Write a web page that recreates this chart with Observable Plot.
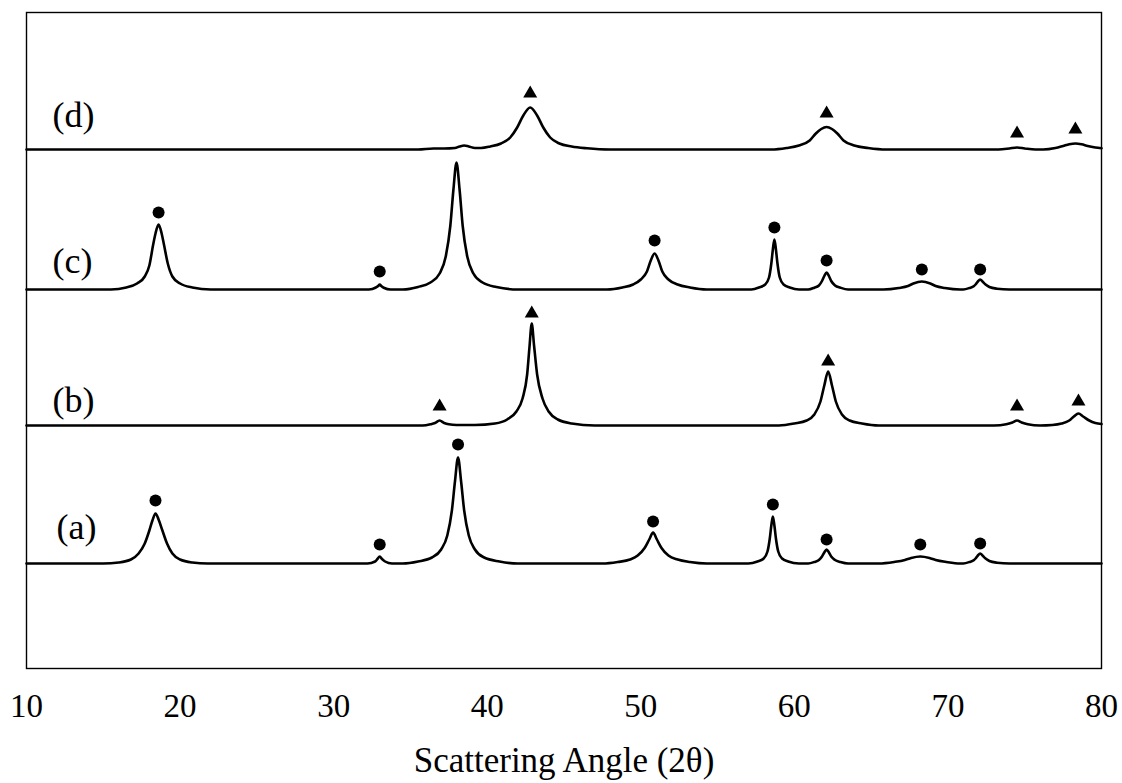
<!DOCTYPE html>
<html><head><meta charset="utf-8">
<script src="https://cdn.jsdelivr.net/npm/d3@7"></script>
<script src="https://cdn.jsdelivr.net/npm/@observablehq/plot@0.6"></script>
<style>body{margin:0;background:#fff}</style>
</head><body><div id="chart"></div>
<script>
// Sample names and vertical stacking offsets (arbitrary intensity units)
const seriesNames = ["(a)", "(b)", "(c)", "(d)"];
const offsets = [105, 243, 379, 519];

// Diffraction patterns: [2θ, intensity above the trace baseline]
const patternA = [[10,0],
  [15.0,0],[16.0,1],[16.8,4],[17.3,10],[17.7,20],[18.0,33],[18.2,43],[18.4,50],[18.6,44],[18.85,33],[19.15,20],[19.5,10],[20.0,4],[20.8,1],[21.8,0],
  [32.2,0],[32.7,2],[32.85,4.5],[33.0,7],[33.15,4.5],[33.35,2],[33.8,0],
  [34.5,0],[35.5,2],[36.4,6],[37.0,14],[37.4,28],[37.7,53],[37.9,82],[38.1,106],[38.3,82],[38.5,53],[38.8,28],[39.2,14],[39.8,6],[40.8,2],[42.0,0],
  [47.5,0],[48.5,1.5],[49.3,4],[49.8,8],[50.25,15.5],[50.55,24],[50.8,31],[51.05,24],[51.35,15.5],[51.8,8],[52.4,4],[53.2,1.5],[54.3,0],
  [57.0,0],[57.6,2],[58.0,5],[58.25,12],[58.4,25],[58.5,38],[58.6,47],[58.7,38],[58.8,25],[58.95,12],[59.2,5],[59.6,2],[60.3,0],
  [60.9,0],[61.3,1.5],[61.6,3.5],[61.8,7],[61.95,11],[62.1,14],[62.25,11],[62.4,7],[62.65,3.5],[63.0,1.5],[63.5,0],
  [65.5,0],[66.5,1.5],[67.2,3.5],[67.6,5.5],[68.2,7],[68.8,5.5],[69.2,3.5],[69.9,1.5],[70.8,0],
  [71.0,0],[71.4,1.5],[71.7,3.5],[71.8,5],[71.95,8],[72.1,10],[72.25,8],[72.45,5],[72.7,2.5],[73.2,0.8],[74.0,0],
  [80,0]];
const patternB = [[10,0],
  [35.8,0],[36.3,1.2],[36.6,2.5],[36.9,5],[37.2,2.5],[37.5,1.2],[38.0,0.5],
  [39.2,0.5],[40.5,2],[41.3,6],[41.9,14],[42.3,27],[42.6,51],[42.75,78],[42.9,102],[43.05,80],[43.25,51],[43.6,27],[44.0,14],[44.6,6],[45.5,2],[47.0,0],
  [59.0,0],[60.0,2],[60.8,5],[61.3,11],[61.7,24],[61.95,40],[62.2,54],[62.45,40],[62.7,24],[63.1,11],[63.6,5],[64.4,2],[65.5,0],
  [73.0,0],[73.8,1.2],[74.2,3],[74.5,5],[74.8,3],[75.2,1.2],[76.0,0],
  [76.8,0.5],[77.4,2],[77.9,5],[78.2,9],[78.5,12],[78.8,9],[79.2,5],[79.6,2.5],[80,1.5]];
const patternC = [[10,0],
  [15.5,0],[16.5,2],[17.2,6],[17.7,13],[18.0,24],[18.25,45],[18.4,56],[18.6,65],[18.8,56],[18.95,45],[19.2,26],[19.5,13],[20.0,6],[20.8,2],[22.0,0],
  [32.3,0],[32.75,2],[32.9,3.5],[33.0,5],[33.1,3.5],[33.3,1.5],[33.7,0],
  [34.5,0],[35.5,2.5],[36.3,7],[36.9,16],[37.3,33],[37.6,64],[37.8,100],[38.0,127],[38.2,100],[38.4,64],[38.7,33],[39.1,16],[39.7,7],[40.6,2.5],[42.0,0],
  [47.8,0],[48.8,2],[49.5,5],[50.0,10],[50.4,18],[50.65,29],[50.9,36],[51.15,29],[51.4,18],[51.8,10],[52.4,5],[53.2,2],[54.3,0],
  [57.2,0],[57.7,2],[58.1,5],[58.35,12],[58.5,26],[58.6,40],[58.7,50],[58.8,40],[58.9,26],[59.05,12],[59.3,5],[59.7,2],[60.3,0],
  [60.9,0],[61.3,1.8],[61.6,4],[61.8,8.5],[61.95,13.5],[62.1,17],[62.25,13.5],[62.4,8.5],[62.65,4],[63.0,1.8],[63.5,0],
  [65.8,0],[66.8,1.5],[67.4,3.5],[67.75,6],[68.3,8],[68.85,6],[69.2,3.5],[69.8,1.5],[70.8,0],
  [71.0,0],[71.4,1.5],[71.7,3.5],[71.8,5],[71.95,8],[72.1,10],[72.25,8],[72.45,5],[72.7,2.5],[73.2,0.8],[74.0,0],
  [80,0]];
const patternD = [[10,0],
  [35.5,0],[36.5,1],[37.2,1],[37.9,1.5],[38.2,3],[38.5,4],[38.8,3],[39.2,1.5],
  [39.6,1.5],[40.2,3],[40.9,6],[41.5,12],[41.95,22],[42.35,34],[42.8,42],[43.25,34],[43.65,22],[44.1,12],[44.7,6],[45.5,3],[46.5,1.2],[48.0,0],
  [58.5,0],[59.5,1.5],[60.3,4],[61.0,9],[61.4,16],[61.75,20.5],[62.1,22.5],[62.45,20.5],[62.8,16],[63.2,9],[63.9,4],[64.8,1.5],[66.0,0],
  [73.3,0],[74.0,1],[74.5,2],[75.0,1],[75.7,0],
  [76.2,0],[77.0,1.5],[77.5,3.5],[77.9,5.2],[78.3,6],[78.7,5.2],[79.1,3.5],[79.6,2],[80,1.2]];

// Phase markers: [2θ, height above the trace baseline]; ● for (a),(c), ▲ for (b),(d)
const markersA = [[18.4,63],[33.0,19],[38.1,119],[50.8,42],[58.6,59],[62.1,24],[68.2,19],[72.1,20]];
const markersB = [[36.9,19],[42.9,112],[62.2,64],[74.5,19],[78.5,24]];
const markersC = [[18.6,77],[33.0,18],[50.9,49],[58.7,62],[62.1,29],[68.3,20],[72.1,20]];
const markersD = [[42.8,56],[62.1,36],[74.5,16],[78.3,20]];

// Sample label anchors
const labelX = [11.95, 11.7, 11.7, 11.7];
const labelY = [130, 257, 396, 542];

const xTicks = [10, 20, 30, 40, 50, 60, 70, 80];
const xTitle = "Scattering Angle (2θ)";

const patterns = [patternA, patternB, patternC, patternD];
const lineData = [];
patterns.forEach((p, i) => p.forEach(([x, v]) => lineData.push({series: seriesNames[i], x, y: v + offsets[i]})));
const circles = [];
[[markersA, 0], [markersC, 2]].forEach(([m, i]) => m.forEach(([x, v]) => circles.push({x, y: v + offsets[i]})));
const triangles = [];
[[markersB, 1], [markersD, 3]].forEach(([m, i]) => m.forEach(([x, v]) => triangles.push({x, y: v + offsets[i]})));
const labels = seriesNames.map((t, i) => ({text: t, x: labelX[i], y: labelY[i]}));

const chart = Plot.plot({
  width: 1122, height: 783,
  marginTop: 12, marginLeft: 26, marginRight: 21, marginBottom: 115,
  x: {domain: [10, 80], ticks: xTicks, tickSize: 0, tickPadding: 25, label: null},
  y: {domain: [0, 656], axis: null},
  style: {fontFamily: "'Liberation Serif', 'Times New Roman', serif", fontSize: "33px", color: "#000", background: "#fff", overflow: "visible"},
  marks: [
    Plot.frame({stroke: "#000", strokeWidth: 1.4}),
    Plot.line(lineData, {x: "x", y: "y", z: "series", curve: "monotone-x", stroke: "#000", strokeWidth: 2.6}),
    Plot.dot(circles, {x: "x", y: "y", symbol: "circle", r: 6, fill: "#000", stroke: null}),
    Plot.dot(triangles, {x: "x", y: "y", symbol: "triangle", r: 5.2, fill: "#000", stroke: null}),
    Plot.text(labels, {x: "x", y: "y", text: "text", textAnchor: "start", lineAnchor: "bottom", fontSize: 36, fill: "#000"}),
    Plot.text([xTitle], {text: d => d, frameAnchor: "bottom", lineAnchor: "bottom", dy: 103, fontSize: 35, fill: "#000"})
  ]
});
document.getElementById("chart").appendChild(chart);
</script>
</body></html>
